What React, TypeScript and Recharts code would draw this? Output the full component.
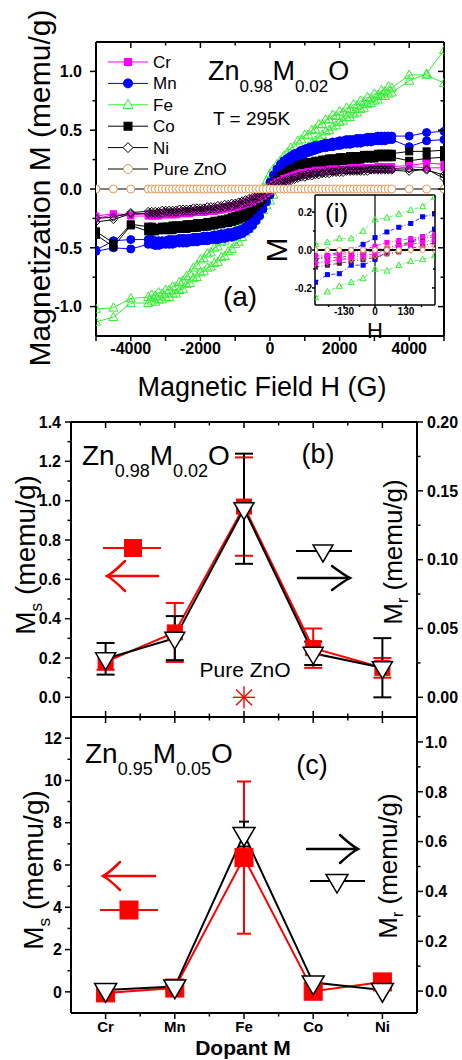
import React from 'react';
import {
  ComposedChart,
  Line,
  Scatter,
  XAxis,
  YAxis,
  ErrorBar,
  ReferenceLine,
  CartesianGrid,
} from 'recharts';

const FONT = '"Liberation Sans", Arial, Helvetica, sans-serif';
const MAGENTA = '#ff00ff';
const BLUE = '#0000ff';
const GREEN = '#33ee33';
const ORANGE = '#e09a55';
const RED = '#ff0000';
const SALMON = '#ff7a7a';

// ---------- panel (a): M-H loops at 295 K ----------
const FIELD_G = [
  -5000, -4500, -4000,
  -3500, -3400, -3300, -3200, -3100, -3000, -2900, -2800, -2700, -2600,
  -2500, -2400, -2300, -2200, -2100, -2000, -1900, -1800, -1700, -1600,
  -1500, -1400, -1300, -1200, -1100, -1000, -900, -800, -700, -600,
  -500, -400, -300, -200, -100, 0, 100, 200, 300, 400,
  500, 600, 700, 800, 900, 1000, 1100, 1200, 1300, 1400,
  1500, 1600, 1700, 1800, 1900, 2000, 2100, 2200, 2300, 2400,
  2500, 2600, 2700, 2800, 2900, 3000, 3100, 3200, 3300, 3400,
  3500, 4000, 4500, 5000,
];

const CR_UP = [
  -0.23, -0.21, -0.22,
  -0.21, -0.21, -0.21, -0.21, -0.2, -0.2, -0.2, -0.2, -0.2, -0.19,
  -0.19, -0.19, -0.19, -0.18, -0.18, -0.18, -0.18, -0.17, -0.17, -0.17,
  -0.16, -0.16, -0.15, -0.15, -0.14, -0.13, -0.13, -0.12, -0.11, -0.1,
  -0.08, -0.07, -0.05, -0.03, 0.0, 0.02, 0.04, 0.06, 0.07, 0.09,
  0.1, 0.11, 0.12, 0.13, 0.14, 0.14, 0.15, 0.15, 0.16, 0.16,
  0.16, 0.16, 0.17, 0.17, 0.17, 0.17, 0.17, 0.17, 0.18, 0.18,
  0.18, 0.18, 0.18, 0.18, 0.18, 0.18, 0.19, 0.19, 0.19, 0.19,
  0.19, 0.2, 0.22, 0.21,
];
const CR_LO = [
  -0.25, -0.22, -0.23,
  -0.23, -0.23, -0.23, -0.23, -0.22, -0.22, -0.22, -0.22, -0.22, -0.21,
  -0.21, -0.21, -0.21, -0.2, -0.2, -0.2, -0.2, -0.19, -0.19, -0.19,
  -0.18, -0.18, -0.17, -0.17, -0.16, -0.16, -0.15, -0.14, -0.13, -0.12,
  -0.11, -0.09, -0.08, -0.06, -0.04, -0.02, 0.01, 0.03, 0.05, 0.06,
  0.07, 0.09, 0.1, 0.11, 0.12, 0.12, 0.13, 0.13, 0.14, 0.14,
  0.15, 0.15, 0.15, 0.15, 0.16, 0.16, 0.16, 0.16, 0.16, 0.16,
  0.16, 0.17, 0.17, 0.17, 0.17, 0.17, 0.17, 0.17, 0.17, 0.17,
  0.17, 0.19, 0.18, 0.18,
];
const MN_UP = [
  -0.52, -0.44, -0.43,
  -0.43, -0.43, -0.44, -0.44, -0.44, -0.44, -0.43, -0.43, -0.43, -0.42,
  -0.42, -0.42, -0.42, -0.41, -0.41, -0.41, -0.4, -0.4, -0.4, -0.39,
  -0.39, -0.38, -0.38, -0.37, -0.37, -0.36, -0.35, -0.34, -0.32, -0.29,
  -0.26, -0.22, -0.17, -0.1, -0.02, 0.06, 0.12, 0.17, 0.21, 0.24,
  0.26, 0.28, 0.3, 0.31, 0.33, 0.34, 0.35, 0.36, 0.37, 0.37,
  0.38, 0.39, 0.39, 0.4, 0.4, 0.41, 0.41, 0.42, 0.42, 0.42,
  0.43, 0.43, 0.43, 0.44, 0.44, 0.44, 0.45, 0.45, 0.45, 0.45,
  0.45, 0.45, 0.48, 0.49,
];
const MN_LO = [
  -0.53, -0.5, -0.51,
  -0.47, -0.47, -0.48, -0.48, -0.47, -0.47, -0.47, -0.47, -0.46, -0.46,
  -0.46, -0.46, -0.45, -0.45, -0.45, -0.44, -0.44, -0.44, -0.43, -0.43,
  -0.43, -0.42, -0.42, -0.41, -0.41, -0.4, -0.39, -0.38, -0.36, -0.34,
  -0.31, -0.27, -0.23, -0.17, -0.11, -0.05, 0.02, 0.08, 0.13, 0.17,
  0.2, 0.23, 0.25, 0.27, 0.28, 0.3, 0.31, 0.32, 0.33, 0.34,
  0.35, 0.35, 0.36, 0.36, 0.37, 0.37, 0.38, 0.38, 0.38, 0.39,
  0.39, 0.39, 0.4, 0.4, 0.4, 0.41, 0.41, 0.41, 0.41, 0.42,
  0.42, 0.36, 0.41, 0.42,
];
const FE_UP = [
  -1.02, -1.01, -0.93,
  -0.92, -0.9, -0.91, -0.88, -0.89, -0.86, -0.86, -0.83, -0.83, -0.79,
  -0.78, -0.74, -0.72, -0.67, -0.65, -0.6, -0.59, -0.55, -0.54, -0.5,
  -0.49, -0.45, -0.44, -0.4, -0.39, -0.35, -0.32, -0.27, -0.24, -0.19,
  -0.15, -0.1, -0.04, 0.01, 0.07, 0.13, 0.17, 0.21, 0.24, 0.28,
  0.31, 0.35, 0.36, 0.41, 0.42, 0.46, 0.46, 0.5, 0.51, 0.55,
  0.55, 0.59, 0.59, 0.63, 0.62, 0.66, 0.65, 0.69, 0.68, 0.72,
  0.71, 0.75, 0.74, 0.78, 0.77, 0.81, 0.8, 0.84, 0.83, 0.87,
  0.86, 0.97, 0.97, 0.9,
];
const FE_LO = [
  -1.13, -1.09, -0.97,
  -0.97, -0.95, -0.96, -0.94, -0.94, -0.92, -0.92, -0.89, -0.89, -0.86,
  -0.85, -0.81, -0.8, -0.76, -0.75, -0.71, -0.7, -0.67, -0.66, -0.63,
  -0.62, -0.58, -0.57, -0.53, -0.51, -0.47, -0.45, -0.41, -0.37, -0.34,
  -0.3, -0.26, -0.22, -0.18, -0.14, -0.1, -0.05, 0.0, 0.05, 0.1,
  0.14, 0.19, 0.22, 0.27, 0.3, 0.34, 0.36, 0.39, 0.41, 0.44,
  0.46, 0.49, 0.5, 0.53, 0.54, 0.57, 0.58, 0.61, 0.61, 0.64,
  0.65, 0.68, 0.69, 0.72, 0.73, 0.75, 0.76, 0.79, 0.79, 0.81,
  0.82, 0.92, 0.98, 1.18,
];
const CO_UP = [
  -0.36, -0.46, -0.3,
  -0.32, -0.32, -0.33, -0.33, -0.32, -0.32, -0.32, -0.31, -0.31, -0.31,
  -0.31, -0.3, -0.3, -0.3, -0.29, -0.29, -0.29, -0.28, -0.28, -0.27,
  -0.27, -0.26, -0.26, -0.25, -0.24, -0.23, -0.22, -0.2, -0.18, -0.16,
  -0.14, -0.11, -0.08, -0.05, -0.01, 0.02, 0.05, 0.08, 0.11, 0.13,
  0.15, 0.17, 0.18, 0.2, 0.21, 0.22, 0.23, 0.23, 0.24, 0.24,
  0.25, 0.25, 0.26, 0.26, 0.26, 0.27, 0.27, 0.27, 0.28, 0.28,
  0.28, 0.28, 0.29, 0.29, 0.29, 0.29, 0.3, 0.3, 0.3, 0.3,
  0.3, 0.32, 0.32, 0.33,
];
const CO_LO = [
  -0.39, -0.49, -0.31,
  -0.36, -0.36, -0.36, -0.35, -0.35, -0.35, -0.35, -0.35, -0.34, -0.34,
  -0.34, -0.34, -0.33, -0.33, -0.33, -0.32, -0.32, -0.32, -0.31, -0.31,
  -0.3, -0.3, -0.29, -0.29, -0.28, -0.27, -0.26, -0.25, -0.23, -0.21,
  -0.18, -0.15, -0.12, -0.09, -0.05, -0.02, 0.02, 0.05, 0.08, 0.1,
  0.12, 0.14, 0.15, 0.17, 0.18, 0.19, 0.2, 0.2, 0.21, 0.21,
  0.22, 0.22, 0.23, 0.23, 0.23, 0.24, 0.24, 0.24, 0.25, 0.25,
  0.25, 0.25, 0.26, 0.26, 0.26, 0.26, 0.27, 0.27, 0.27, 0.27,
  0.27, 0.24, 0.26, 0.27,
];
const NI_UP = [
  -0.25, -0.24, -0.2,
  -0.19, -0.19, -0.19, -0.19, -0.18, -0.18, -0.18, -0.18, -0.18, -0.17,
  -0.17, -0.17, -0.17, -0.16, -0.16, -0.16, -0.16, -0.15, -0.15, -0.15,
  -0.14, -0.14, -0.13, -0.13, -0.12, -0.12, -0.11, -0.1, -0.09, -0.08,
  -0.07, -0.06, -0.04, -0.02, 0.0, 0.02, 0.03, 0.05, 0.06, 0.07,
  0.08, 0.09, 0.1, 0.11, 0.12, 0.12, 0.13, 0.13, 0.14, 0.14,
  0.14, 0.15, 0.15, 0.15, 0.15, 0.16, 0.16, 0.16, 0.16, 0.16,
  0.16, 0.16, 0.17, 0.17, 0.17, 0.17, 0.17, 0.17, 0.17, 0.17,
  0.17, 0.17, 0.16, 0.12,
];
const NI_LO = [
  -0.28, -0.26, -0.21,
  -0.21, -0.21, -0.21, -0.21, -0.21, -0.2, -0.2, -0.2, -0.2, -0.2,
  -0.19, -0.19, -0.19, -0.19, -0.18, -0.18, -0.18, -0.18, -0.17, -0.17,
  -0.17, -0.16, -0.16, -0.15, -0.15, -0.14, -0.13, -0.13, -0.12, -0.11,
  -0.1, -0.08, -0.07, -0.05, -0.03, -0.01, 0.01, 0.02, 0.04, 0.05,
  0.06, 0.07, 0.08, 0.09, 0.1, 0.1, 0.11, 0.11, 0.12, 0.12,
  0.13, 0.13, 0.13, 0.14, 0.14, 0.14, 0.14, 0.15, 0.15, 0.15,
  0.15, 0.15, 0.15, 0.15, 0.16, 0.16, 0.16, 0.16, 0.16, 0.16,
  0.16, 0.15, 0.17, 0.09,
];
const ZNO_M = [
  0, 0, 0,
  0, 0, 0, 0, 0, 0, 0, 0, 0, 0,
  0, 0, 0, 0, 0, 0, 0, 0, 0, 0,
  0, 0, 0, 0, 0, 0, 0, 0, 0, 0,
  0, 0, 0, 0, 0, 0, 0, 0, 0, 0,
  0, 0, 0, 0, 0, 0, 0, 0, 0, 0,
  0, 0, 0, 0, 0, 0, 0, 0, 0, 0,
  0, 0, 0, 0, 0, 0, 0, 0, 0, 0,
  0, 0, 0, 0,
];

const A_X_TICKS = [-5000, -4000, -3000, -2000, -1000, 0, 1000, 2000, 3000, 4000, 5000];
const A_X_MAJOR = [-4000, -2000, 0, 2000, 4000];
const A_Y_TICKS = [-1, -0.75, -0.5, -0.25, 0, 0.25, 0.5, 0.75, 1];
const A_Y_MAJOR = [-1, -0.5, 0, 0.5, 1];

// ---------- inset (i): low-field zoom ----------
const INSET_H = [-250, -200, -150, -100, -50, 0, 50, 100, 150, 200, 250];
const IN_FE_UP = [0.03, 0.04, 0.06, 0.06, 0.1, 0.16, 0.17, 0.19, 0.21, 0.23, 0.28];
const IN_FE_LO = [-0.25, -0.22, -0.19, -0.17, -0.15, -0.1, -0.11, -0.08, -0.06, -0.05, -0.03];
const IN_MN_UP = [-0.05, -0.03, -0.01, 0.0, 0.03, 0.065, 0.095, 0.12, 0.14, 0.175, 0.19];
const IN_MN_LO = [-0.17, -0.13, -0.125, -0.08, -0.08, -0.05, -0.01, 0.01, 0.045, 0.07, 0.11];
const IN_CR_UP = [-0.03, -0.03, -0.02, -0.01, 0.0, 0.02, 0.04, 0.05, 0.06, 0.07, 0.08];
const IN_CR_LO = [-0.07, -0.06, -0.05, -0.04, -0.03, -0.02, 0.0, 0.02, 0.03, 0.04, 0.05];
const IN_CO_UP = [-0.05, -0.04, -0.04, -0.03, -0.02, 0.0, 0.01, 0.03, 0.04, 0.06, 0.07];
const IN_CO_LO = [-0.09, -0.08, -0.07, -0.06, -0.05, -0.04, -0.02, -0.01, 0.01, 0.02, 0.04];
const IN_NI_UP = [-0.04, -0.03, -0.03, -0.02, -0.01, 0.0, 0.01, 0.02, 0.03, 0.04, 0.06];
const IN_NI_LO = [-0.07, -0.06, -0.05, -0.05, -0.04, -0.03, -0.02, -0.01, 0.0, 0.01, 0.02];
const IN_ZNO = [0, 0, 0, 0, 0, 0, 0, 0, 0, 0, 0];
const IN_X_TICKS = [-195, -130, -65, 0, 65, 130, 195];
const IN_X_MAJOR = [-130, 0, 130];
const IN_Y_TICKS = [-0.2, -0.1, 0, 0.1, 0.2];
const IN_Y_MAJOR = [-0.2, 0, 0.2];

// ---------- panels (b) and (c): Ms / Mr versus dopant ----------
const DOPANTS = ['Cr', 'Mn', 'Fe', 'Co', 'Ni'];
const DOPANT_X = [1, 2, 3, 4, 5];
const MS_02 = [0.18, 0.33, 0.97, 0.25, 0.15];
const MS_02_ERR = [0.04, 0.15, 0.25, 0.1, 0.05];
const MR_02 = [0.028, 0.043, 0.137, 0.032, 0.0215];
const MR_02_ERR = [0.0115, 0.016, 0.04, 0.0085, 0.0215];
const ZNO_MS = 0; // pure ZnO, plotted at the Fe position
const MS_05 = [-0.05, 0.18, 6.35, 0.03, 0.47];
const MS_05_ERR = [0, 0, 3.6, 0, 0];
const MR_05 = [0.004, 0.018, 0.63, 0.034, 0.004];
const MR_05_ERR = [0, 0, 0.05, 0, 0];

const DOP_X_TICKS = [1, 1.5, 2, 2.5, 3, 3.5, 4, 4.5, 5];
const B_MS_TICKS = [0, 0.1, 0.2, 0.3, 0.4, 0.5, 0.6, 0.7, 0.8, 0.9, 1.0, 1.1, 1.2, 1.3, 1.4];
const B_MS_MAJOR = [0, 0.2, 0.4, 0.6, 0.8, 1.0, 1.2, 1.4];
const B_MR_TICKS = [0, 0.025, 0.05, 0.075, 0.1, 0.125, 0.15, 0.175, 0.2];
const B_MR_MAJOR = [0, 0.05, 0.1, 0.15, 0.2];
const C_MS_TICKS = [0, 1, 2, 3, 4, 5, 6, 7, 8, 9, 10, 11, 12];
const C_MS_MAJOR = [0, 2, 4, 6, 8, 10, 12];
const C_MR_TICKS = [0, 0.1, 0.2, 0.3, 0.4, 0.5, 0.6, 0.7, 0.8, 0.9, 1.0];
const C_MR_MAJOR = [0, 0.2, 0.4, 0.6, 0.8, 1.0];

const AXIS_LINE = { stroke: '#000', strokeWidth: 2 };

type Kind = 'square' | 'circle' | 'tri' | 'triDown' | 'diamond';

function Glyph({ kind, x, y, s, stroke, fill, sw = 1 }: {
  kind: Kind; x: number; y: number; s: number; stroke: string; fill: string; sw?: number;
}) {
  const h = s / 2;
  if (x == null || y == null || Number.isNaN(x) || Number.isNaN(y)) return null;
  if (kind === 'square') {
    return <rect x={x - h} y={y - h} width={s} height={s} fill={fill} stroke={stroke} strokeWidth={sw} />;
  }
  if (kind === 'circle') {
    return <circle cx={x} cy={y} r={h} fill={fill} stroke={stroke} strokeWidth={sw} />;
  }
  if (kind === 'tri') {
    return <polygon points={`${x},${y - h * 1.1} ${x + h},${y + h * 0.75} ${x - h},${y + h * 0.75}`} fill={fill} stroke={stroke} strokeWidth={sw} />;
  }
  if (kind === 'triDown') {
    return <polygon points={`${x - h},${y - h * 0.6} ${x + h},${y - h * 0.6} ${x},${y + h * 1.1}`} fill={fill} stroke={stroke} strokeWidth={sw} strokeLinejoin="miter" />;
  }
  return <polygon points={`${x},${y - h} ${x + h},${y} ${x},${y + h} ${x - h},${y}`} fill={fill} stroke={stroke} strokeWidth={sw} />;
}

const dots = (id: string, kind: Kind, s: number, stroke: string, fill: string, sw = 1) =>
  (p: any) => <Glyph key={`${id}-${p.index}`} kind={kind} x={p.cx} y={p.cy} s={s} stroke={stroke} fill={fill} sw={sw} />;

type TickOpt = { out: boolean; fmt?: (v: number) => string; len?: number; minor?: number; gap?: number; size?: number };

// draws its own tick mark (long for majors, short for minors) and a bold label for majors
function tickMaker(side: 'left' | 'right' | 'top' | 'bottom', majors: number[], o: TickOpt) {
  const len = o.len ?? 6;
  const minor = o.minor ?? 3.5;
  const gap = o.gap ?? 4;
  const size = o.size ?? 16;
  return (p: any) => {
    const v = Number(p.payload?.value);
    const isMajor = majors.some((m) => Math.abs(m - v) < 1e-6);
    const L = isMajor ? len : minor;
    const dir = (side === 'left' || side === 'top' ? -1 : 1) * (o.out ? 1 : -1);
    const label = o.fmt && isMajor ? o.fmt(v) : null;
    if (side === 'left' || side === 'right') {
      return (
        <g>
          <line x1={p.x} y1={p.y} x2={p.x + dir * L} y2={p.y} stroke="#000" strokeWidth={1.5} />
          {label !== null && (
            <text x={p.x + dir * (len + gap)} y={p.y + size * 0.36} textAnchor={dir < 0 ? 'end' : 'start'}
              fontSize={size} fontWeight="bold" fontFamily={FONT} fill="#000">{label}</text>
          )}
        </g>
      );
    }
    return (
      <g>
        <line x1={p.x} y1={p.y} x2={p.x} y2={p.y + dir * L} stroke="#000" strokeWidth={1.5} />
        {label !== null && (
          <text x={p.x} y={p.y + dir * (len + gap)} textAnchor="middle"
            fontSize={size} fontWeight="bold" fontFamily={FONT} fill="#000">{label}</text>
        )}
      </g>
    );
  };
}

function LoopPanel() {
  const rows = FIELD_G.map((h, i) => ({
    h,
    crUp: CR_UP[i], crLo: CR_LO[i], mnUp: MN_UP[i], mnLo: MN_LO[i],
    feUp: FE_UP[i], feLo: FE_LO[i], coUp: CO_UP[i], coLo: CO_LO[i],
    niUp: NI_UP[i], niLo: NI_LO[i], zno: ZNO_M[i],
  }));
  const loop = (key: string, line: string, kind: Kind, s: number, stroke: string, fill: string) => (
    <Line key={key} xAxisId="x" yAxisId="y" dataKey={key} stroke={line} strokeWidth={1}
      dot={dots(key, kind, s, stroke, fill)} activeDot={false} isAnimationActive={false} />
  );
  return (
    <ComposedChart width={462} height={400} data={rows} margin={{ top: 42, right: 18, bottom: 0, left: 0 }}>
      <XAxis xAxisId="x" dataKey="h" type="number" domain={[-5000, 5000]} ticks={A_X_TICKS} interval={0}
        height={64} tickSize={0} tickMargin={0} tickLine={false} axisLine={AXIS_LINE} allowDataOverflow
        tick={tickMaker('bottom', A_X_MAJOR, { out: true, fmt: (v) => String(v), gap: 13, len: 5, minor: 5 })} />
      <XAxis xAxisId="xt" dataKey="h" type="number" orientation="top" mirror domain={[-5000, 5000]} ticks={A_X_TICKS}
        interval={0} tickSize={0} tickMargin={0} tickLine={false} axisLine={AXIS_LINE} allowDataOverflow
        tick={tickMaker('top', A_X_MAJOR, { out: false })} />
      <YAxis yAxisId="y" type="number" domain={[-1.25, 1.25]} ticks={A_Y_TICKS} interval={0} width={96}
        tickSize={0} tickMargin={0} tickLine={false} axisLine={AXIS_LINE} allowDataOverflow
        tick={tickMaker('left', A_Y_MAJOR, { out: true, fmt: (v) => v.toFixed(1), gap: 8 })} />
      <YAxis yAxisId="yr" type="number" orientation="right" mirror domain={[-1.25, 1.25]} ticks={A_Y_TICKS} interval={0}
        tickSize={0} tickMargin={0} tickLine={false} axisLine={AXIS_LINE} allowDataOverflow
        tick={tickMaker('right', A_Y_MAJOR, { out: false })} />
      {loop('feUp', GREEN, 'tri', 9, GREEN, 'none')}
      {loop('feLo', GREEN, 'tri', 9, GREEN, 'none')}
      {loop('mnUp', BLUE, 'circle', 8, BLUE, BLUE)}
      {loop('mnLo', BLUE, 'circle', 8, BLUE, BLUE)}
      {loop('coUp', '#000', 'square', 7, '#000', '#000')}
      {loop('coLo', '#000', 'square', 7, '#000', '#000')}
      {loop('crUp', MAGENTA, 'square', 6, MAGENTA, MAGENTA)}
      {loop('crLo', MAGENTA, 'square', 6, MAGENTA, MAGENTA)}
      {loop('niUp', '#000', 'diamond', 8, '#000', 'none')}
      {loop('niLo', '#000', 'diamond', 8, '#000', 'none')}
      {loop('zno', '#000', 'circle', 8, ORANGE, '#fff')}
    </ComposedChart>
  );
}

function InsetPanel() {
  const rows = INSET_H.map((h, i) => ({
    h,
    feUp: IN_FE_UP[i], feLo: IN_FE_LO[i], mnUp: IN_MN_UP[i], mnLo: IN_MN_LO[i],
    crUp: IN_CR_UP[i], crLo: IN_CR_LO[i], coUp: IN_CO_UP[i], coLo: IN_CO_LO[i],
    niUp: IN_NI_UP[i], niLo: IN_NI_LO[i], zno: IN_ZNO[i],
  }));
  const dd = '4 2 1 2';
  const loop = (key: string, color: string, kind: Kind, s: number, fill: string) => (
    <Line key={key} xAxisId="x" yAxisId="y" dataKey={key} stroke={color} strokeWidth={0.8} strokeDasharray={dd}
      dot={dots(`i${key}`, kind, s, color, fill)} activeDot={false} isAnimationActive={false} />
  );
  const frame = { stroke: '#000', strokeWidth: 1.5 };
  return (
    <ComposedChart width={175} height={140} data={rows} margin={{ top: 10, right: 10, bottom: 0, left: 0 }}>
      <CartesianGrid xAxisId="x" yAxisId="y" fill="#fff" stroke="none" />
      <XAxis xAxisId="x" dataKey="h" type="number" domain={[-252, 252]} ticks={IN_X_TICKS} interval={0} height={20}
        tickSize={0} tickMargin={0} tickLine={false} axisLine={frame} allowDataOverflow
        tick={tickMaker('bottom', IN_X_MAJOR, { out: true, fmt: (v) => String(v), len: 3, minor: 2, gap: 7, size: 10 })} />
      <XAxis xAxisId="xt" dataKey="h" type="number" orientation="top" mirror domain={[-252, 252]} tick={false}
        tickLine={false} axisLine={frame} allowDataOverflow />
      <YAxis yAxisId="y" type="number" domain={[-0.29, 0.29]} ticks={IN_Y_TICKS} interval={0} width={45}
        tickSize={0} tickMargin={0} tickLine={false} axisLine={frame} allowDataOverflow
        tick={tickMaker('left', IN_Y_MAJOR, { out: true, fmt: (v) => v.toFixed(1), len: 3, minor: 2, gap: 0, size: 10 })} />
      <YAxis yAxisId="yr" type="number" orientation="right" mirror domain={[-0.29, 0.29]} ticks={IN_Y_TICKS} interval={0}
        tickSize={0} tickMargin={0} tickLine={false} axisLine={frame} allowDataOverflow
        tick={tickMaker('right', IN_Y_MAJOR, { out: false, len: 3, minor: 2 })} />
      <ReferenceLine xAxisId="x" yAxisId="y" x={0} stroke="#000" strokeWidth={1.2} />
      {loop('feUp', GREEN, 'tri', 6, 'none')}
      {loop('feLo', GREEN, 'tri', 6, 'none')}
      {loop('mnUp', BLUE, 'square', 4, BLUE)}
      {loop('mnLo', BLUE, 'square', 4, BLUE)}
      {loop('coUp', '#5a1a4a', 'square', 4, '#5a1a4a')}
      {loop('coLo', '#5a1a4a', 'square', 4, '#5a1a4a')}
      {loop('niUp', SALMON, 'triDown', 6, 'none')}
      {loop('niLo', SALMON, 'triDown', 6, 'none')}
      {loop('crUp', MAGENTA, 'square', 4, MAGENTA)}
      {loop('crLo', MAGENTA, 'square', 4, MAGENTA)}
      <Line xAxisId="x" yAxisId="y" dataKey="zno" stroke="#000" strokeWidth={1.8}
        dot={dots('izno', 'circle', 5, ORANGE, '#fff')} activeDot={false} isAnimationActive={false} />
    </ComposedChart>
  );
}

const starShape = (p: any) => {
  const { cx, cy } = p;
  const r = 11;
  const d = r * 0.72;
  return (
    <g stroke={RED} strokeWidth={1.4}>
      <line x1={cx} y1={cy - r} x2={cx} y2={cy + r} />
      <line x1={cx - r} y1={cy} x2={cx + r} y2={cy} />
      <line x1={cx - d} y1={cy - d} x2={cx + d} y2={cy + d} />
      <line x1={cx - d} y1={cy + d} x2={cx + d} y2={cy - d} />
    </g>
  );
};

type DopProps = {
  ms: number[]; msErr: number[]; mr: number[]; mrErr: number[];
  height: number; top: number; bottomAxis: boolean;
  msDomain: [number, number]; msTicks: number[]; msMajor: number[]; msFmt: (v: number) => string;
  mrDomain: [number, number]; mrTicks: number[]; mrMajor: number[]; mrFmt: (v: number) => string;
  sq: number; tri: number; msCap: number; mrCap: number; zno?: boolean; leftGap: number; rightGap: number;
};

function DopantPanel(o: DopProps) {
  const rows = DOPANT_X.map((x, i) => ({ x, ms: o.ms[i], msErr: o.msErr[i], mr: o.mr[i], mrErr: o.mrErr[i] }));
  return (
    <ComposedChart width={462} height={o.height} data={rows} margin={{ top: o.top, right: 0, bottom: 0, left: 0 }}>
      {o.bottomAxis ? (
        <XAxis xAxisId="x" dataKey="x" type="number" domain={[0.5, 5.5]} ticks={DOP_X_TICKS} interval={0} height={47}
          tickSize={0} tickMargin={0} tickLine={false} axisLine={AXIS_LINE} allowDataOverflow
          tick={tickMaker('bottom', DOPANT_X, { out: true, fmt: (v) => DOPANTS[v - 1], gap: 13, size: 15 })} />
      ) : (
        <XAxis xAxisId="x" dataKey="x" type="number" domain={[0.5, 5.5]} ticks={DOP_X_TICKS} interval={0} mirror
          tickSize={0} tickMargin={0} tickLine={false} axisLine={AXIS_LINE} allowDataOverflow
          tick={tickMaker('bottom', DOPANT_X, { out: false })} />
      )}
      <XAxis xAxisId="xt" dataKey="x" type="number" orientation="top" mirror domain={[0.5, 5.5]} ticks={DOP_X_TICKS}
        interval={0} tickSize={0} tickMargin={0} tickLine={false} axisLine={AXIS_LINE} allowDataOverflow
        tick={tickMaker('top', DOPANT_X, { out: false })} />
      <YAxis yAxisId="ms" type="number" domain={o.msDomain} ticks={o.msTicks} interval={0} width={71}
        tickSize={0} tickMargin={0} tickLine={false} axisLine={AXIS_LINE} allowDataOverflow
        tick={tickMaker('left', o.msMajor, { out: true, fmt: o.msFmt, gap: o.leftGap })} />
      <YAxis yAxisId="mr" type="number" orientation="right" domain={o.mrDomain} ticks={o.mrTicks} interval={0} width={45}
        tickSize={0} tickMargin={0} tickLine={false} axisLine={AXIS_LINE} allowDataOverflow
        tick={tickMaker('right', o.mrMajor, { out: true, fmt: o.mrFmt, gap: o.rightGap })} />
      <Line xAxisId="x" yAxisId="ms" dataKey="ms" stroke={RED} strokeWidth={2}
        dot={dots('ms', 'square', o.sq, RED, RED)} activeDot={false} isAnimationActive={false}>
        <ErrorBar dataKey="msErr" direction="y" width={o.msCap} stroke={RED} strokeWidth={2} isAnimationActive={false} />
      </Line>
      <Line xAxisId="x" yAxisId="mr" dataKey="mr" stroke="#000" strokeWidth={2}
        dot={dots('mr', 'triDown', o.tri, '#000', '#fff', 1.5)} activeDot={false} isAnimationActive={false}>
        <ErrorBar dataKey="mrErr" direction="y" width={o.mrCap} stroke="#000" strokeWidth={2} isAnimationActive={false} />
      </Line>
      {o.zno && (
        <Scatter xAxisId="x" yAxisId="ms" data={[{ x: DOPANT_X[2], ms: ZNO_MS }]} dataKey="ms"
          shape={starShape} isAnimationActive={false} />
      )}
    </ComposedChart>
  );
}

function Formula({ x, y, big, small, dy, a, b }: { x: number; y: number; big: number; small: number; dy: number; a: string; b: string }) {
  return (
    <text x={x} y={y} fontSize={big} fontFamily={FONT} fill="#000">
      Zn<tspan fontSize={small} dy={dy}>{a}</tspan>
      <tspan dy={-dy}>M</tspan>
      <tspan fontSize={small} dy={dy}>{b}</tspan>
      <tspan dy={-dy}>O</tspan>
    </text>
  );
}

function VLabel({ x, y, size, main, sub, rest }: { x: number; y: number; size: number; main: string; sub?: string; rest?: string }) {
  return (
    <text x={x} y={y} transform={`rotate(-90 ${x} ${y})`} textAnchor="middle" fontSize={size} fontFamily={FONT} fill="#000">
      {main}
      {sub && <tspan fontSize={size * 0.62} dy={size * 0.24}>{sub}</tspan>}
      {sub && <tspan dy={-size * 0.24}>{rest}</tspan>}
    </text>
  );
}

function Arrow({ tip, tail, y, color, head = 18, half = 14 }: { tip: number; tail: number; y: number; color: string; head?: number; half?: number }) {
  const dir = tail > tip ? 1 : -1;
  const hx = tip + dir * head;
  return (
    <g stroke={color} strokeWidth={2.5} fill="none" strokeLinecap="round">
      <line x1={tip} y1={y} x2={tail} y2={y} />
      <path d={`M${hx},${y - half} Q${tip + dir * 6},${y - 3} ${tip},${y} Q${tip + dir * 6},${y + 3} ${hx},${y + half}`} />
    </g>
  );
}

const LEGEND_A: { name: string; kind: Kind; s: number; stroke: string; fill: string; line: string }[] = [
  { name: 'Cr', kind: 'square', s: 7, stroke: MAGENTA, fill: MAGENTA, line: MAGENTA },
  { name: 'Mn', kind: 'circle', s: 9, stroke: BLUE, fill: BLUE, line: BLUE },
  { name: 'Fe', kind: 'tri', s: 10, stroke: GREEN, fill: '#fff', line: GREEN },
  { name: 'Co', kind: 'square', s: 8, stroke: '#000', fill: '#000', line: '#000' },
  { name: 'Ni', kind: 'diamond', s: 10, stroke: '#000', fill: '#fff', line: '#000' },
  { name: 'Pure ZnO', kind: 'circle', s: 9, stroke: ORANGE, fill: '#fff', line: '#000' },
];

function Annotations() {
  return (
    <svg width={462} height={1060} style={{ position: 'absolute', left: 0, top: 0, pointerEvents: 'none' }}>
      {/* panel (a) */}
      {LEGEND_A.map((e, i) => {
        const y = 62 + i * 21.4;
        return (
          <g key={e.name}>
            <line x1={108} y1={y} x2={148} y2={y} stroke={e.line} strokeWidth={1} />
            <Glyph kind={e.kind} x={128} y={y} s={e.s} stroke={e.stroke} fill={e.fill} />
            <text x={153} y={y + 6} fontSize={17} fontFamily={FONT} fill="#000">{e.name}</text>
          </g>
        );
      })}
      <Formula x={208} y={80} big={27} small={17} dy={12} a="0.98" b="0.02" />
      <text x={213} y={125} fontSize={19} fontFamily={FONT}>T = 295K</text>
      <text x={240} y={306} textAnchor="middle" fontSize={28} fontFamily={FONT}>(a)</text>
      <text x={262} y={396} textAnchor="middle" fontSize={27} fontFamily={FONT}>Magnetic Field H (G)</text>
      <VLabel x={50} y={188} size={30} main="Magnetization M (memu/g)" />
      <text x={325} y={222} fontSize={26} fontFamily={FONT}>(i)</text>
      <VLabel x={287} y={250} size={30} main="M" />
      <text x={375} y={338} textAnchor="middle" fontSize={22} fontFamily={FONT}>H</text>

      {/* panel (b) */}
      <Formula x={82} y={465} big={28} small={18} dy={12} a="0.98" b="0.02" />
      <text x={318} y={463} textAnchor="middle" fontSize={27} fontFamily={FONT}>(b)</text>
      <text x={245} y={677} textAnchor="middle" fontSize={21} fontFamily={FONT}>Pure ZnO</text>
      <line x1={103} y1={548} x2={161} y2={548} stroke={RED} strokeWidth={2} />
      <Glyph kind="square" x={133} y={548} s={17} stroke={RED} fill={RED} />
      <Arrow tip={107} tail={158} y={576} color={RED} head={18} half={15} />
      <line x1={296} y1={551} x2={352} y2={551} stroke="#000" strokeWidth={2} />
      <Glyph kind="triDown" x={323} y={551} s={20} stroke="#000" fill="#fff" sw={1.5} />
      <Arrow tip={350} tail={298} y={578} color="#000" head={18} half={12} />
      <VLabel x={35} y={555} size={28} main="M" sub="s" rest=" (memu/g)" />
      <VLabel x={402} y={552} size={26} main="M" sub="r" rest=" (memu/g)" />

      {/* panel (c) */}
      <Formula x={85} y={763} big={28} small={18} dy={12} a="0.95" b="0.05" />
      <text x={312} y={774} textAnchor="middle" fontSize={27} fontFamily={FONT}>(c)</text>
      <Arrow tip={103} tail={155} y={876} color={RED} head={17} half={14} />
      <line x1={100} y1={910} x2={158} y2={910} stroke={RED} strokeWidth={2} />
      <Glyph kind="square" x={129} y={910} s={18} stroke={RED} fill={RED} />
      <Arrow tip={358} tail={307} y={849} color="#000" head={18} half={14} />
      <line x1={310} y1={881} x2={365} y2={881} stroke="#000" strokeWidth={2} />
      <Glyph kind="triDown" x={337} y={881} s={22} stroke="#000" fill="#fff" sw={1.5} />
      <VLabel x={43} y={870} size={28} main="M" sub="s" rest=" (memu/g)" />
      <VLabel x={397} y={866} size={26} main="M" sub="r" rest=" (memu/g)" />
      <text x={243} y={1055} textAnchor="middle" fontSize={21} fontWeight="bold" fontFamily={FONT}>Dopant M</text>
    </svg>
  );
}

export default function App() {
  return (
    <div style={{ position: 'absolute', left: 0, top: 0, width: 462, height: 1060, background: '#fff', overflow: 'hidden' }}>
      <div style={{ position: 'absolute', left: 0, top: 0 }}>
        <LoopPanel />
      </div>
      <div style={{ position: 'absolute', left: 270, top: 185 }}>
        <InsetPanel />
      </div>
      <div style={{ position: 'absolute', left: 0, top: 400 }}>
        <DopantPanel
          ms={MS_02} msErr={MS_02_ERR} mr={MR_02} mrErr={MR_02_ERR}
          height={317} top={22} bottomAxis={false}
          msDomain={[-0.1, 1.4]} msTicks={B_MS_TICKS} msMajor={B_MS_MAJOR} msFmt={(v) => v.toFixed(1)}
          mrDomain={[-0.1 / 7, 0.2]} mrTicks={B_MR_TICKS} mrMajor={B_MR_MAJOR} mrFmt={(v) => v.toFixed(2)}
          sq={15} tri={20} msCap={9} mrCap={9} zno leftGap={4} rightGap={4}
        />
      </div>
      <div style={{ position: 'absolute', left: 0, top: 700 }}>
        <DopantPanel
          ms={MS_05} msErr={MS_05_ERR} mr={MR_05} mrErr={MR_05_ERR}
          height={360} top={17} bottomAxis
          msDomain={[-1, 13]} msTicks={C_MS_TICKS} msMajor={C_MS_MAJOR} msFmt={(v) => String(v)}
          mrDomain={[-0.088, 1.1]} mrTicks={C_MR_TICKS} mrMajor={C_MR_MAJOR} mrFmt={(v) => v.toFixed(1)}
          sq={18} tri={22} msCap={7} mrCap={5} leftGap={3} rightGap={2}
        />
      </div>
      <Annotations />
    </div>
  );
}
